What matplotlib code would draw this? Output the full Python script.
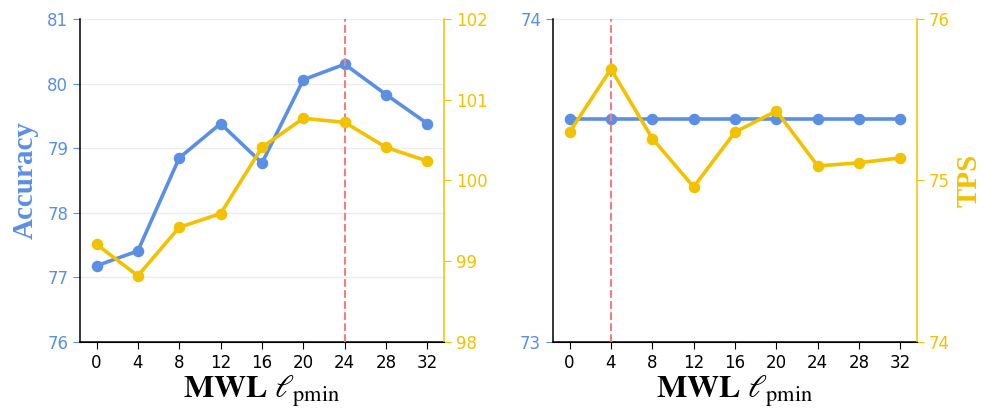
import matplotlib
matplotlib.use("Agg")
import matplotlib.pyplot as plt

x_vals = [0, 4, 8, 12, 16, 20, 24, 28, 32]

acc_left = [77.18, 77.41, 78.85, 79.38, 78.77, 80.06, 80.30, 79.83, 79.38]
tps_left = [99.21, 98.82, 99.42, 99.59, 100.41, 100.77, 100.72, 100.41, 100.24]

acc_right = [73.69, 73.69, 73.69, 73.69, 73.69, 73.69, 73.69, 73.69, 73.69]
tps_right = [75.30, 75.69, 75.26, 74.96, 75.30, 75.43, 75.09, 75.11, 75.14]

best_left = 24
best_right = 4

acc_ticks_left = [76, 77, 78, 79, 80, 81]
tps_ticks_left = [98, 99, 100, 101, 102]
acc_ticks_right = [73, 74]
tps_ticks_right = [74, 75, 76]

BLUE = "#5B8FE3"
YELLOW = "#F2C200"
RED = "#F08080"

plt.rcParams["mathtext.fontset"] = "stix"

fig = plt.figure(figsize=(9.97, 4.2), dpi=100)
axL = fig.add_axes([0.0802, 0.1857, 0.3651, 0.7691])
axR = fig.add_axes([0.5547, 0.1857, 0.3651, 0.7691])

xlabel = r"$\mathbf{MWL}\ \ell_{\mathrm{pmin}}$"


def setup(ax, acc, tps, best, acc_ticks, tps_ticks, left_label, right_label):
    ax.plot(x_vals, acc, color=BLUE, lw=2.6, marker="o", ms=7.3, zorder=3)
    ax.set_ylim(acc_ticks[0], acc_ticks[-1])
    ax.set_yticks(acc_ticks)
    ax.set_xticks(x_vals)
    ax.grid(axis="y", color="#ececec", lw=1.0, zorder=0)
    ax.set_axisbelow(True)
    ax.tick_params(axis="y", colors=BLUE, labelsize=12, length=5)
    ax.tick_params(axis="x", colors="black", labelsize=12, length=5)
    ax.spines["top"].set_visible(False)
    ax.spines["right"].set_visible(False)
    ax.spines["left"].set_linewidth(1.1)
    ax.spines["bottom"].set_linewidth(1.1)
    ax.set_xlabel(xlabel, fontsize=23, labelpad=1)
    if left_label:
        ax.set_ylabel("Accuracy", fontsize=21, fontweight="bold",
                      family="Liberation Serif", color=BLUE, labelpad=6)
    ax.axvline(best, color=RED, ls="--", lw=1.5, zorder=4)

    ax2 = ax.twinx()
    ax2.plot(x_vals, tps, color=YELLOW, lw=2.6, marker="o", ms=7.3, zorder=3)
    ax2.set_ylim(tps_ticks[0], tps_ticks[-1])
    ax2.set_yticks(tps_ticks)
    ax2.tick_params(axis="y", colors=YELLOW, labelsize=12, length=5)
    ax2.spines["top"].set_visible(False)
    ax2.spines["left"].set_visible(False)
    ax2.spines["right"].set_color(YELLOW)
    ax2.spines["right"].set_linewidth(1.1)
    if right_label:
        ax2.set_ylabel("TPS", fontsize=21, fontweight="bold",
                       family="Liberation Serif", color=YELLOW, labelpad=4)
    return ax2


setup(axL, acc_left, tps_left, best_left, acc_ticks_left, tps_ticks_left, True, False)
setup(axR, acc_right, tps_right, best_right, acc_ticks_right, tps_ticks_right, False, True)

fig.savefig("out.png", dpi=100)
